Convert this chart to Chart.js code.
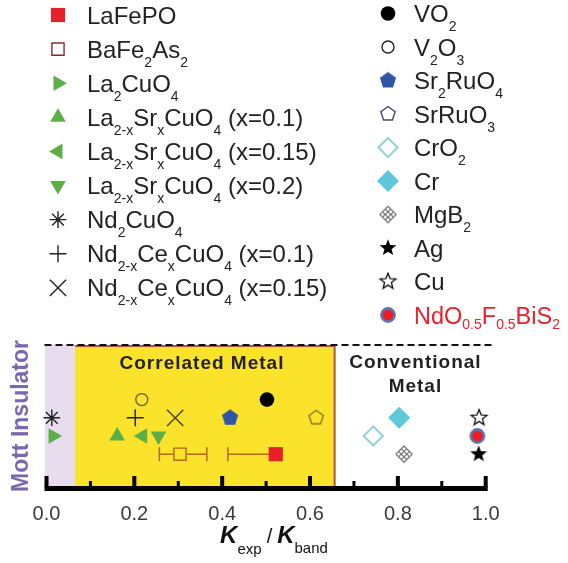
<!DOCTYPE html>
<html>
<head>
<meta charset="utf-8">
<script src="https://cdn.jsdelivr.net/npm/chart.js@4.4.1/dist/chart.umd.min.js"></script>
<style>
  html,body{margin:0;padding:0;background:#fff}
  #wrap{width:568px;height:563px}
</style>
</head>
<body>
<div id="wrap"><canvas id="chart" width="568" height="563"></canvas></div>
<script>
// ---- data ----
// names: text in {} is a subscript
const names = [
  'LaFePO', 'BaFe{2}As{2}', 'La{2}CuO{4}',
  'La{2-x}Sr{x}CuO{4} (x=0.1)', 'La{2-x}Sr{x}CuO{4} (x=0.15)', 'La{2-x}Sr{x}CuO{4} (x=0.2)',
  'Nd{2}CuO{4}', 'Nd{2-x}Ce{x}CuO{4} (x=0.1)', 'Nd{2-x}Ce{x}CuO{4} (x=0.15)',
  'VO{2}', 'V{2}O{3}', 'Sr{2}RuO{4}', 'SrRuO{3}', 'CrO{2}', 'Cr', 'MgB{2}', 'Ag', 'Cu',
  'NdO{0.5}F{0.5}BiS{2}'
];
const kRatio  = [0.522, 0.304, 0.015, 0.161, 0.219, 0.255, 0.012, 0.202, 0.293,
                 0.502, 0.217, 0.418, 0.614, 0.744, 0.803, 0.814, 0.984, 0.985, 0.981];
const row     = [1, 1, 2, 2, 2, 2, 3, 3, 3, 4, 4, 3, 3, 2, 3, 1, 1, 3, 2];
const errLow  = [0.413, 0.257, null, null, null, null, null, null, null,
                 null, null, null, null, null, null, null, null, null, null];
const errHigh = [null, 0.365, null, null, null, null, null, null, null,
                 null, null, null, null, null, null, null, null, null, null];
const xTicks = [0, 0.2, 0.4, 0.6, 0.8, 1.0];
const xMinor = [0.1, 0.3, 0.5, 0.7, 0.9];
const mottEdge = 0.065, correlatedEdge = 0.656;
const regionText = ['Correlated Metal', 'Conventional', 'Metal', 'Mott Insulator'];

// ---- custom marker canvases ----
const FONT = '"Liberation Sans", Arial, Helvetica, sans-serif';
function mk(size, fn){
  const c = document.createElement('canvas'); c.width = c.height = size;
  const g = c.getContext('2d'); g.translate(size/2, size/2); fn(g); return c;
}
function poly(g, n, R, r){ // r = inner radius for stars
  g.beginPath();
  const k = r ? n*2 : n;
  for(let i=0;i<k;i++){
    const a = -Math.PI/2 + i*2*Math.PI/k;
    const rr = r ? (i%2 ? r : R) : R;
    i ? g.lineTo(Math.cos(a)*rr, Math.sin(a)*rr) : g.moveTo(Math.cos(a)*rr, Math.sin(a)*rr);
  }
  g.closePath();
}
const pentFill = col => mk(20, g=>{ poly(g,5,8.5); g.fillStyle=col; g.fill(); });
const pentOpen = col => mk(20, g=>{ poly(g,5,7.5); g.strokeStyle=col; g.lineWidth=1.4; g.stroke(); });
const starFill = col => mk(20, g=>{ poly(g,5,8.8,3.7); g.fillStyle=col; g.fill(); });
const starOpen = col => mk(20, g=>{ poly(g,5,8.3,3.6); g.strokeStyle=col; g.lineWidth=1.3; g.stroke(); });
const mgb2 = col => mk(22, g=>{
  g.rotate(Math.PI/4); g.strokeStyle=col; g.lineWidth=1.1;
  const s = 11.5, h = s/2;
  g.strokeRect(-h,-h,s,s);
  g.beginPath();
  for(const t of [-h/3, h/3]){ g.moveTo(t,-h); g.lineTo(t,h); g.moveTo(-h,t); g.lineTo(h,t); }
  g.stroke();
});
const dotRing = () => mk(20, g=>{
  g.beginPath(); g.arc(0,0,6.6,0,2*Math.PI);
  g.fillStyle='#ee1c24'; g.fill(); g.strokeStyle='#5d74ad'; g.lineWidth=2.6; g.stroke();
});

const GREEN = '#5cae46';
const markers = [
  {style:'rect', r:10, fill:'#e8202a', border:'#e8202a', bw:0},
  {style:'rect', r:8.6, fill:'rgba(0,0,0,0)', border:'#b2661c', bw:1.4, leg:'#8a2b2b', gap:6.5},
  {style:'triangle', rot:90, r:9, fill:GREEN, border:GREEN, bw:0},
  {style:'triangle', rot:0, r:9, fill:GREEN, border:GREEN, bw:0},
  {style:'triangle', rot:-90, r:9, fill:GREEN, border:GREEN, bw:0},
  {style:'triangle', rot:180, r:9, fill:GREEN, border:GREEN, bw:0},
  {style:'star', r:8.3, fill:'#222', border:'#222', bw:1.4},
  {style:'cross', r:8.5, fill:'#222', border:'#222', bw:1.4},
  {style:'crossRot', r:11.5, fill:'#4a4220', border:'#4a4220', bw:1.4, leg:'#222'},
  {style:'circle', r:7.3, fill:'#000', border:'#000', bw:0},
  {style:'circle', r:6, fill:'rgba(0,0,0,0)', border:'#6e5f1c', bw:1.4, leg:'#222'},
  {style:pentFill('#2f55a8'), r:8},
  {style:pentOpen('#8a7426'), r:8, legStyle:pentOpen('#41457a')},
  {style:'rectRot', r:9.6, fill:'rgba(0,0,0,0)', border:'#92d2dc', bw:2},
  {style:'rectRot', r:11, fill:'#5fc7da', border:'#5fc7da', bw:0},
  {style:mgb2('#666'), r:9},
  {style:starFill('#000'), r:9},
  {style:starOpen('#111'), r:9},
  {style:dotRing(), r:8}
];

const datasets = names.map((n,i)=>{
  const m = markers[i];
  return {
    label: n, data: [{x:kRatio[i], y:row[i]}], showLine:false, clip:false,
    pointStyle: m.style, pointRadius: m.r, pointRotation: m.rot||0,
    pointBackgroundColor: m.fill||'#000', pointBorderColor: m.border||'#000',
    pointBorderWidth: m.bw||0
  };
});

// rich text with subscripts
function richText(ctx, str, x, y, size, subSize, subDy, color){
  const parts = str.split(/(\{[^}]*\})/).filter(Boolean);
  let cx = x;
  ctx.fillStyle = color; ctx.textAlign='left'; ctx.textBaseline='alphabetic';
  for(const p of parts){
    const sub = p[0]==='{';
    const t = sub ? p.slice(1,-1) : p;
    ctx.font = `${sub?subSize:size}px ${FONT}`;
    ctx.fillText(t, cx, sub ? y+subDy : y);
    cx += ctx.measureText(t).width;
  }
  return cx - x;
}

const decor = {
  id:'decor',
  beforeDatasetsDraw(chart){
    const {ctx, chartArea:a, scales:{x, y}} = chart;
    const x0 = x.getPixelForValue(0), xm = x.getPixelForValue(mottEdge), xc = x.getPixelForValue(correlatedEdge);
    ctx.save();
    ctx.fillStyle = '#e7ddee';
    ctx.fillRect(x0-1.5, a.top, xm-x0+1.5, a.bottom-a.top);
    ctx.fillStyle = '#fbe32c';
    ctx.fillRect(xm, a.top, xc-xm, a.bottom-a.top);
    ctx.strokeStyle = '#a9553a'; ctx.lineWidth = 2;
    ctx.beginPath(); ctx.moveTo(xm, a.top+1); ctx.lineTo(xc, a.top+1); ctx.lineTo(xc, a.bottom); ctx.stroke();
    // dashed upper boundary
    ctx.strokeStyle = '#111'; ctx.lineWidth = 2; ctx.setLineDash([7,4]);
    ctx.beginPath(); ctx.moveTo(x0-2, a.top); ctx.lineTo(x.getPixelForValue(1.015), a.top); ctx.stroke();
    ctx.setLineDash([]);
    // region labels
    ctx.fillStyle = '#222'; ctx.textAlign='center'; ctx.textBaseline='middle';
    ctx.font = `bold 19px ${FONT}`; ctx.letterSpacing = '1px';
    ctx.fillText(regionText[0], x.getPixelForValue(0.354), y.getPixelForValue(5.95));
    ctx.fillText(regionText[1], x.getPixelForValue(0.840), y.getPixelForValue(6.05));
    ctx.fillText(regionText[2], x.getPixelForValue(0.840), y.getPixelForValue(4.70));
    ctx.letterSpacing = '0px';
    ctx.translate(28, 416); ctx.rotate(-Math.PI/2);
    ctx.fillStyle = '#7868ad'; ctx.textBaseline='alphabetic';
    ctx.font = `bold 23px ${FONT}`;
    ctx.fillText(regionText[3], 0, 0);
    ctx.restore();
    // error bars
    ctx.save();
    ctx.strokeStyle = '#b8661c'; ctx.lineWidth = 1.5;
    names.forEach((n,i)=>{
      if(errLow[i]==null && errHigh[i]==null) return;
      const px = x.getPixelForValue(kRatio[i]), py = y.getPixelForValue(row[i]);
      const g = markers[i].gap||0;
      ctx.beginPath();
      if(errLow[i]!=null){
        const lx = x.getPixelForValue(errLow[i]);
        ctx.moveTo(lx, py); ctx.lineTo(px-g, py);
        ctx.moveTo(lx, py-7); ctx.lineTo(lx, py+7);
      }
      if(errHigh[i]!=null){
        const hx = x.getPixelForValue(errHigh[i]);
        ctx.moveTo(px+g, py); ctx.lineTo(hx, py);
        ctx.moveTo(hx, py-7); ctx.lineTo(hx, py+7);
      }
      ctx.stroke();
    });
    ctx.restore();
  },
  afterDatasetsDraw(chart){
    const {ctx, chartArea:a, scales:{x}} = chart;
    ctx.save();
    ctx.fillStyle = '#000';
    const x0 = x.getPixelForValue(0), x1 = x.getPixelForValue(1);
    ctx.fillRect(x0-2, a.bottom, x1-x0+4, 5);
    xTicks.forEach(v=>{ const p = x.getPixelForValue(v); ctx.fillRect(p-2, a.bottom-10, 4, 11); });
    xMinor.forEach(v=>{ const p = x.getPixelForValue(v); ctx.fillRect(p-1.5, a.bottom-5, 3, 6); });
    ctx.restore();
  },
  afterDraw(chart){
    const {ctx} = chart;
    ctx.save();
    // legend, two columns
    names.forEach((n,i)=>{
      const left = i < 9;
      const k = left ? i : i-9;
      const mx = left ? 58 : 388, tx = left ? 87 : 414;
      const cy = left ? 15 + k*34.1 : 13.5 + k*33.5;
      const m = markers[i];
      const st = m.legStyle || m.style;
      if(typeof st === 'object'){
        ctx.drawImage(st, mx - st.width/2, cy - st.height/2);
      } else {
        ctx.fillStyle = m.fill; ctx.strokeStyle = m.leg || m.border; ctx.lineWidth = m.bw;
        Chart.helpers.drawPoint(ctx, {pointStyle:st, radius:m.r, rotation:m.rot||0, borderWidth:m.bw}, mx, cy);
      }
      const red = i === names.length-1;
      richText(ctx, n, tx, cy+8.5, red ? 23.5 : 24, 14, red ? 5 : 9, red ? '#e8202a' : '#222');
    });
    // x axis title  K_exp / K_band
    const parts = [['K','bold italic 24px',0],['exp','15px',11],['/','20px',0],['K','bold italic 24px',0],['band','15px',10]];
    const gaps = [0,0,5,5,0];
    let w = 0;
    parts.forEach((p,j)=>{ ctx.font = `${p[1]} ${FONT}`; w += gaps[j] + ctx.measureText(p[0]).width; });
    let cx = 274 - w/2;
    ctx.fillStyle = '#111'; ctx.textAlign='left'; ctx.textBaseline='alphabetic';
    parts.forEach((p,j)=>{
      cx += gaps[j];
      ctx.font = `${p[1]} ${FONT}`;
      ctx.fillText(p[0], cx, 543 + p[2]);
      cx += ctx.measureText(p[0]).width;
    });
    ctx.restore();
  }
};

new Chart(document.getElementById('chart'), {
  type: 'scatter',
  data: { datasets },
  options: {
    responsive: false, animation: false, events: [],
    layout: { padding: { left: 46.5, right: 82.3, top: 345, bottom: 0 } },
    plugins: { legend: { display: false }, tooltip: { enabled: false } },
    scales: {
      x: {
        type: 'linear', min: 0, max: 1,
        afterBuildTicks: s => { s.ticks = xTicks.map(v => ({ value: v })); },
        afterFit: s => { s.height = 77; },
        grid: { display: false, drawTicks: false },
        border: { display: false },
        ticks: { padding: 16, color: '#3a3a3a', autoSkip: false, maxRotation: 0,
                 font: { family: FONT, size: 20 }, callback: v => v.toFixed(1) }
      },
      y: { type: 'linear', min: -0.75, max: 7.0, display: false }
    }
  },
  plugins: [decor]
});
</script>
</body>
</html>
